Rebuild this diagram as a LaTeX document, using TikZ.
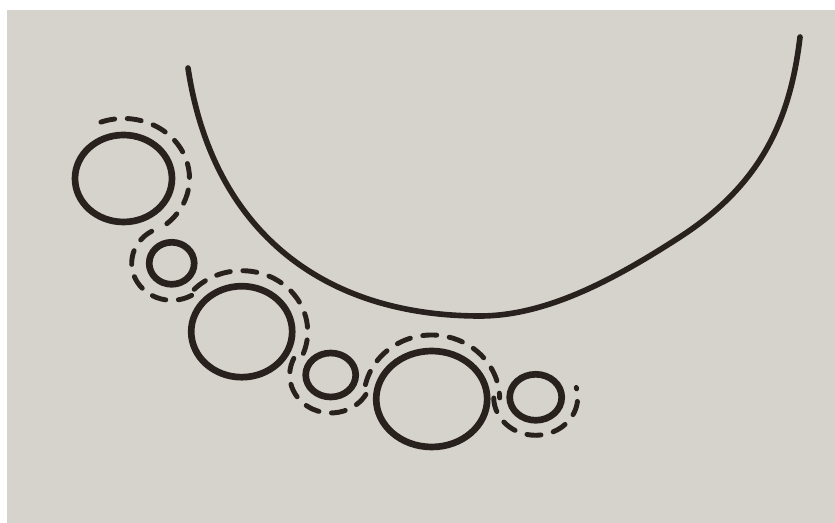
\documentclass[tikz,border=0pt]{standalone}
\usepackage{xcolor}
\usepackage{tikz}
\usetikzlibrary{calc}
\definecolor{paper}{RGB}{214,211,204}
\definecolor{ink}{RGB}{40,33,30}

\begin{document}
\begin{tikzpicture}[
    ring/.style={ink, line width=1.9pt},
    halo/.style={ink, line width=1.4pt, line cap=round, dash pattern=on 4pt off 3.6pt},
    bowl/.style={ink, line width=1.6pt, line cap=round}]
    % 1. Paper background
    \useasboundingbox (0,0) rectangle (8.35,5.23);
    \fill[white] (0,0) rectangle (8.35,5.23);
    \fill[paper] (0.07,0) rectangle (8.35,5.13);

    % 2. Centres of the small rings
    \coordinate (c1) at (1.235,3.445);
    \coordinate (c2) at (1.717,2.597);
    \coordinate (c3) at (2.417,1.913);
    \coordinate (c4) at (3.307,1.480);
    \coordinate (c5) at (4.317,1.240);
    \coordinate (c6) at (5.357,1.257);

    % 3. The big bowl
    \draw[bowl] (1.88,4.55) .. controls (2.12,2.95) and (3.20,2.07) .. (4.80,2.07)
        .. controls (5.50,2.07) and (6.21,2.48) .. (6.80,2.86)
        .. controls (7.60,3.38) and (7.90,4.01) .. (8.00,4.86);

    % 4. Solid rings
    \foreach \c/\rx/\ry in {c1/0.485/0.435, c2/0.225/0.21, c3/0.505/0.455,
                            c4/0.25/0.22, c5/0.555/0.48, c6/0.26/0.23} {
        \draw[ring] (\c) ellipse [x radius=\rx, y radius=\ry];
    }

    % 5. Dashed line winding round the rings
    \foreach \c/\rx/\ry/\a/\b in {c1/0.66/0.60/110/-60, c2/0.40/0.37/120/316,
                                  c3/0.66/0.61/136/-26, c4/0.41/0.38/154/347,
                                  c5/0.68/0.64/167/1, c6/0.42/0.38/181/375} {
        \draw[halo] (\c) ++({\rx*cos(\a)},{\ry*sin(\a)})
            arc [start angle=\a, end angle=\b, x radius=\rx, y radius=\ry];
    }
\end{tikzpicture}
\end{document}
